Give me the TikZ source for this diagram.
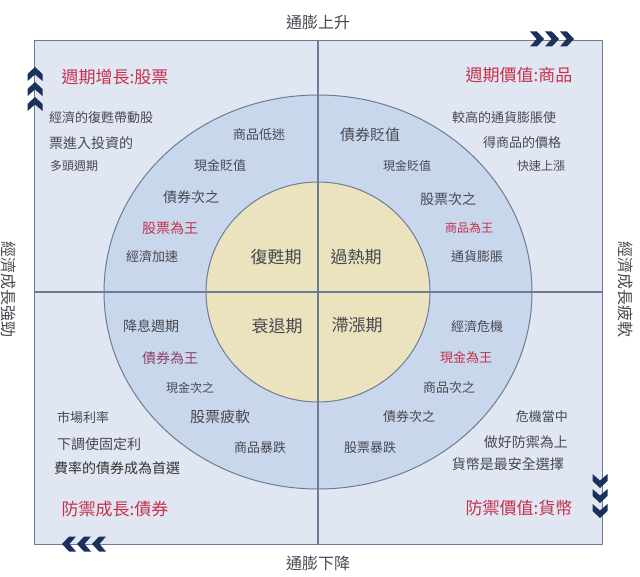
\documentclass[tikz,border=0pt]{standalone}
\usepackage{fontspec}
\setmainfont{Noto Sans CJK TC}
\definecolor{boxbg}{RGB}{224,231,242}
\definecolor{ringbg}{RGB}{201,215,237}
\definecolor{corebg}{RGB}{235,227,190}
\definecolor{edge}{RGB}{110,123,150}
\definecolor{txt}{RGB}{72,72,80}
\definecolor{hot}{RGB}{198,48,76}
\definecolor{plum}{RGB}{140,66,100}
\definecolor{navy}{RGB}{28,48,92}
\begin{document}
\begin{tikzpicture}[x=1pt, y=-1pt, line join=round,
  every node/.style={text=txt, inner sep=0pt},
  fs/.style={font=\fontsize{#1}{#1}\selectfont},
  king/.style={text=hot},
  head/.style={text=hot, fs=17},
  phase/.style={fs=17},
  axis/.style={fs=16},
  chev/.pic={\fill[navy] (0,0)--(7.5,7)--(7.5,14)--(0,7.5)--(-7.5,14)--(-7.5,7)--cycle;}]
\useasboundingbox (0,0) rectangle (640,577);
\coordinate (O) at (318,292);
\coordinate (NW) at (34,40);
\coordinate (SE) at (602,544);
% background, rings and cross
\fill[boxbg] (NW) rectangle (SE);
\filldraw[fill=ringbg, draw=edge, line width=1pt] (O) ellipse (214 and 197);
\filldraw[fill=corebg, draw=edge, line width=1pt] (O) ellipse (112 and 110);
\draw[edge, line width=1.2pt] (318,40)--(318,544) (34,292)--(602,292);
\draw[edge, line width=.8pt] (NW) rectangle (SE);
% chevrons
\foreach \d in {0,15,30}{
  \pic at (35,67+\d) {chev};
  \pic[rotate=-90] at (574-\d,39) {chev};
  \pic[rotate=180] at (600,518-\d) {chev};
  \pic[rotate=90] at (62+\d,544) {chev};
}
% axes
\node[axis] (up) at (318,22) {通膨上升};
\node[axis] (down) at (318,563) {通膨下降};
\node[axis, rotate=-90] (strong) at (9,290) {經濟成長強勁};
\node[axis, rotate=-90] (weak) at (626,290) {經濟成長疲軟};
% quadrant titles
\node[head] (q1) at (115,77) {週期增長:股票};
\node[head] (q2) at (519,75) {週期價值:商品};
\node[head] (q3) at (115,509) {防禦成長:債券};
\node[head] (q4) at (519,508) {防禦價值:貨幣};
% phases
\node[phase] (p1) at (276,257) {復甦期};
\node[phase] (p2) at (356,257) {過熱期};
\node[phase] (p3) at (277,326) {衰退期};
\node[phase] (p4) at (357,325) {滯漲期};
% top left
\node[fs=13, anchor=west] (a1) at (49,118) {經濟的復甦帶動股};
\node[fs=14, anchor=west] (a2) at (49,143) {票進入投資的};
\node[fs=12, anchor=west] (a3) at (50,166) {多頭週期};
\node[fs=13] (b1) at (259,135) {商品低迷};
\node[fs=13] (b2) at (220,166) {現金貶值};
\node[fs=14] (b3) at (191,197) {債券次之};
\node[fs=14, king] (b4) at (170,228) {股票為王};
\node[fs=13] (b5) at (152,257) {經濟加速};
% top right
\node[fs=15] (c1) at (370,135) {債券貶值};
\node[fs=12] (c2) at (407,166) {現金貶值};
\node[fs=14] (c3) at (448,199) {股票次之};
\node[fs=12, king] (c4) at (469,228) {商品為王};
\node[fs=13] (c5) at (477,257) {通貨膨脹};
\node[fs=13] (d1) at (504,118) {較高的通貨膨脹使};
\node[fs=13] (d2) at (522,143) {得商品的價格};
\node[fs=12] (d3) at (541,166) {快速上漲};
% bottom left
\node[fs=14] (e1) at (151,326) {降息週期};
\node[fs=14, text=plum] (e2) at (170,358) {債券為王};
\node[fs=12] (e3) at (190,388) {現金次之};
\node[fs=15] (e4) at (220,417) {股票疲軟};
\node[fs=13] (e5) at (260,448) {商品暴跌};
\node[fs=13, anchor=west] (f1) at (57,418) {市場利率};
\node[fs=14, anchor=west] (f2) at (57,444) {下調使固定利};
\node[fs=14, anchor=west, text=black!80] (f3) at (54,468) {費率的債券成為首選};
% bottom right
\node[fs=13] (g1) at (477,327) {經濟危機};
\node[fs=13, king] (g2) at (466,358) {現金為王};
\node[fs=13] (g3) at (449,388) {商品次之};
\node[fs=13] (g4) at (409,417) {債券次之};
\node[fs=13] (g5) at (370,448) {股票暴跌};
\node[fs=13, anchor=east] (h1) at (568,417) {危機當中};
\node[fs=14, anchor=east] (h2) at (568,442) {做好防禦為上};
\node[fs=14, anchor=east] (h3) at (564,464) {貨幣是最安全選擇};
\end{tikzpicture}
\end{document}
